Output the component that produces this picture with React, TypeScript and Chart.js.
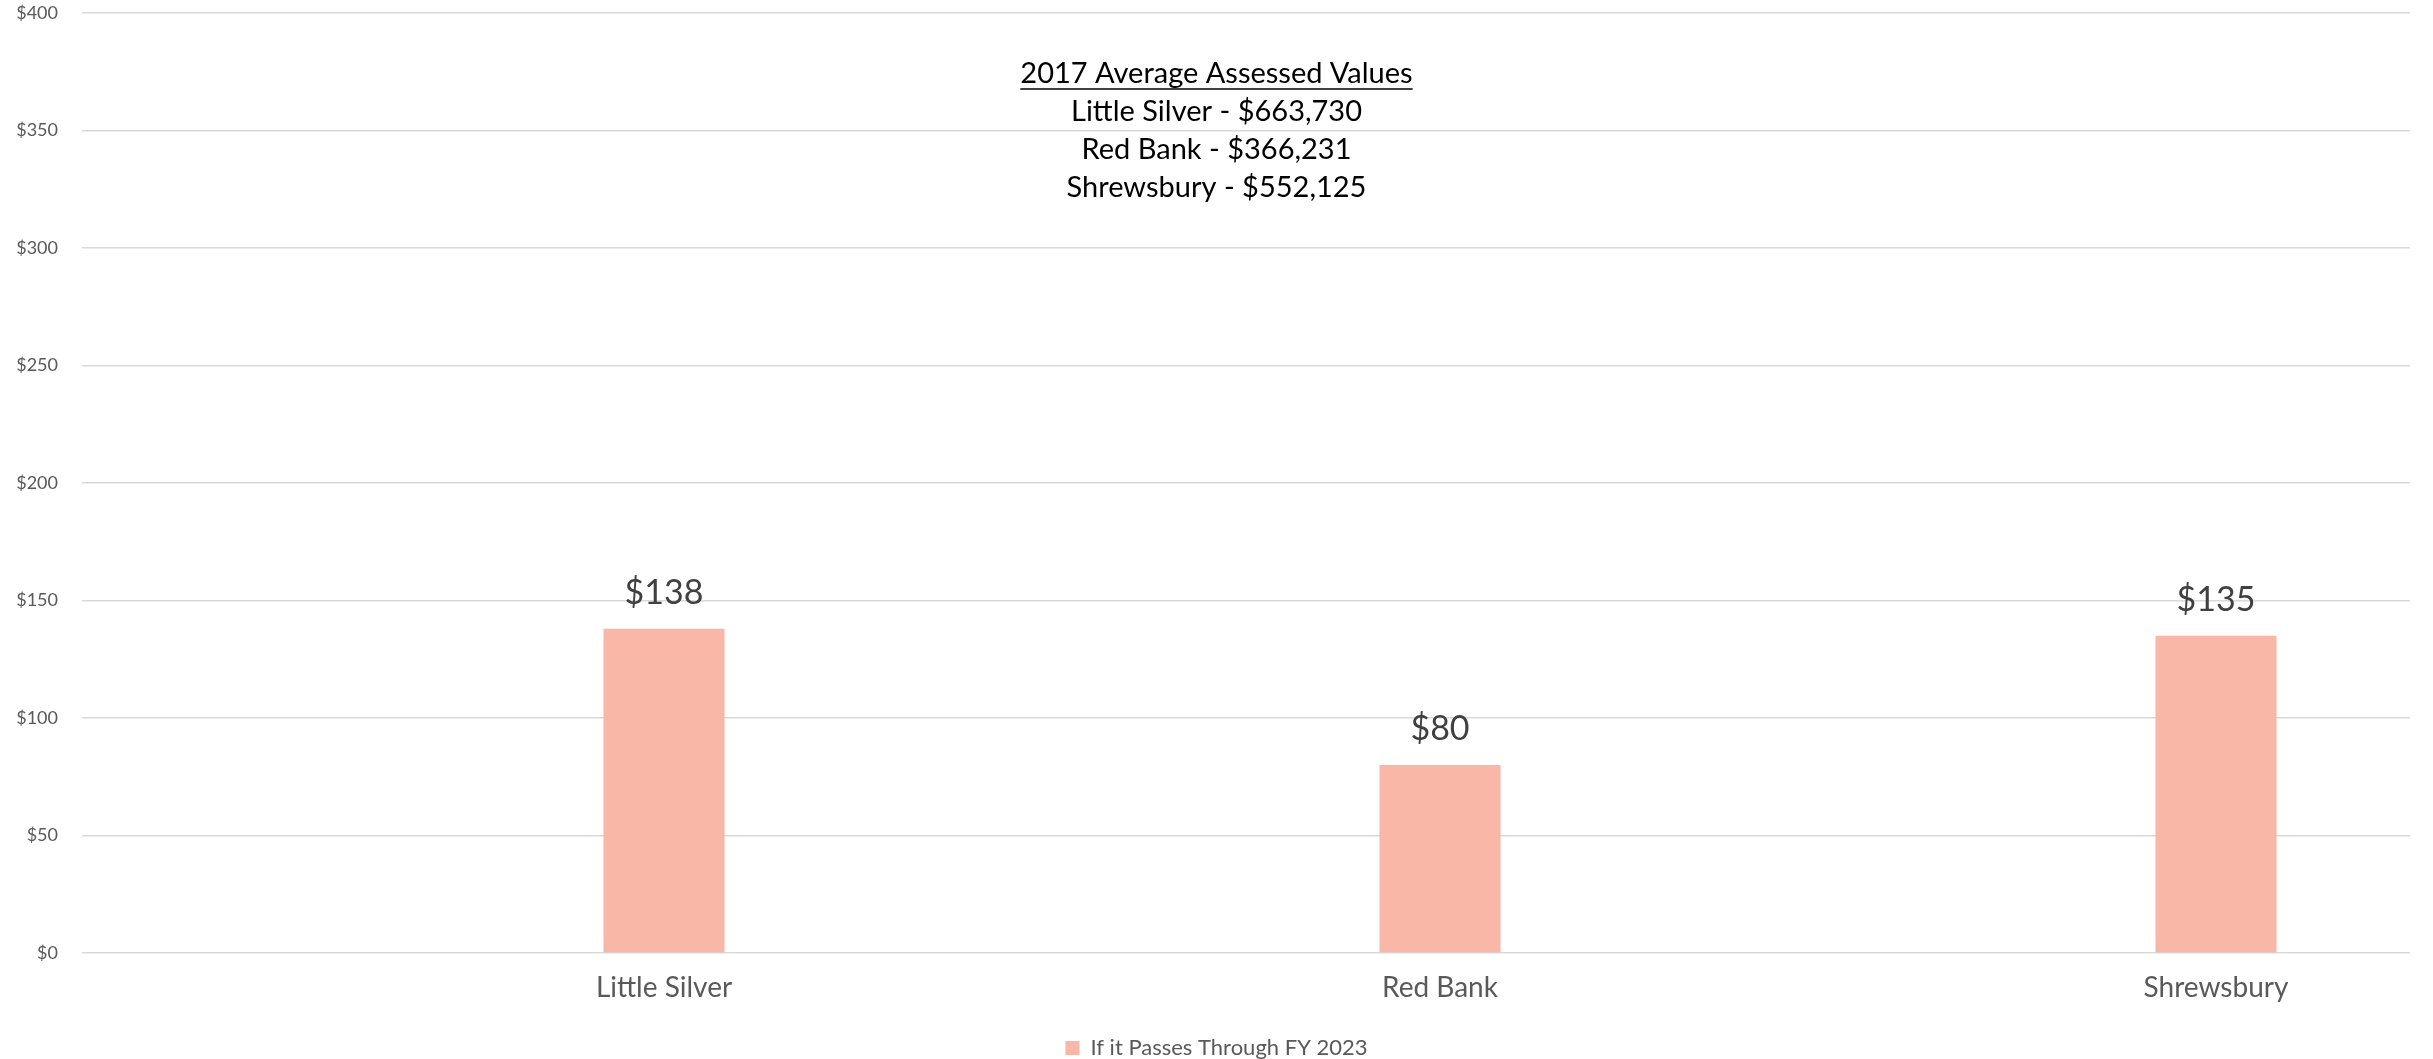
import React, { useEffect, useRef } from "react";
import { Chart, registerables } from "chart.js";

Chart.register(...registerables);

const categories = ["Little Silver", "Red Bank", "Shrewsbury"];
const values = [138, 80, 135];
const seriesLabel = "If it Passes Through FY 2023";
const yMin = 0;
const yMax = 400;
const yStep = 50;
const noteTitle = "2017 Average Assessed Values";
const noteLines = ["Little Silver - $663,730", "Red Bank - $366,231", "Shrewsbury - $552,125"];

const FONT = "Lato, 'Open Sans', sans-serif";

const dataLabelPlugin = {
  id: "dataLabels",
  afterDatasetsDraw(chart: any) {
    const ctx = chart.ctx;
    const meta = chart.getDatasetMeta(0);
    ctx.save();
    ctx.font = `34px ${FONT}`;
    ctx.fillStyle = "#404040";
    ctx.textAlign = "center";
    ctx.textBaseline = "alphabetic";
    meta.data.forEach((el: any, i: number) => {
      ctx.fillText("$" + values[i], el.x, el.y - 25);
    });
    ctx.restore();
  },
};

const notePlugin = {
  id: "note",
  afterDraw(chart: any) {
    const ctx = chart.ctx;
    const cx = chart.width / 2;
    ctx.save();
    ctx.font = `29px ${FONT}`;
    ctx.fillStyle = "#000000";
    ctx.textAlign = "center";
    ctx.textBaseline = "alphabetic";
    const first = 83;
    const gap = 38;
    ctx.fillText(noteTitle, cx, first);
    const w = ctx.measureText(noteTitle).width;
    ctx.strokeStyle = "#000000";
    ctx.lineWidth = 1.5;
    ctx.beginPath();
    ctx.moveTo(cx - w / 2, first + 6);
    ctx.lineTo(cx + w / 2, first + 6);
    ctx.stroke();
    noteLines.forEach((t, i) => {
      ctx.fillText(t, cx, first + gap * (i + 1));
    });
    ctx.restore();
  },
};

export default function App() {
  const ref = useRef<HTMLCanvasElement | null>(null);
  useEffect(() => {
    if (!ref.current) return;
    const chart = new Chart(ref.current, {
      type: "bar",
      data: {
        datasets: [
          {
            label: seriesLabel,
            data: values.map((v, i) => ({ x: i, y: v })),
            backgroundColor: "#F8B7A7",
            borderWidth: 0,
            categoryPercentage: 1,
            barPercentage: 0.156,
          },
        ],
      },
      options: {
        animation: false,
        responsive: false,
        devicePixelRatio: 1,
        layout: { padding: { top: 13, right: 0, left: 0, bottom: -10 } },
        plugins: {
          tooltip: { enabled: false },
          legend: {
            position: "bottom",
            labels: {
              boxWidth: 14,
              boxHeight: 14,
              padding: 4,
              color: "#595959",
              font: { family: FONT, size: 22 },
            },
          },
        },
        scales: {
          x: {
            type: "linear",
            offset: false,
            min: -0.75,
            max: 2.25,
            grid: { display: false, drawTicks: false, offset: false },
            border: { display: false },
            afterBuildTicks: (scale: any) => {
              scale.ticks = categories.map((_, i) => ({ value: i }));
            },
            afterFit: (scale: any) => {
              scale.height = 80;
              scale.paddingLeft = 0;
              scale.paddingRight = 0;
            },
            ticks: {
              padding: 18,
              color: "#595959",
              font: { family: FONT, size: 28 },
              autoSkip: false,
              maxRotation: 0,
              callback: (v: any) => categories[v] ?? "",
            },
          },
          y: {
            min: yMin,
            max: yMax,
            grid: { color: "#d9d9d9", lineWidth: 1.5, drawTicks: false },
            border: { display: false },
            afterFit: (scale: any) => {
              scale.width = 82;
              scale.paddingTop = 0;
              scale.paddingBottom = 0;
            },
            ticks: {
              stepSize: yStep,
              padding: 24,
              color: "#595959",
              font: { family: FONT, size: 18 },
              callback: (v: any) => "$" + v,
            },
          },
          yRightSpace: {
            position: "right",
            min: yMin,
            max: yMax,
            grid: { display: false, drawTicks: false },
            border: { display: false },
            ticks: { display: false },
            afterFit: (scale: any) => {
              scale.width = 23;
              scale.paddingTop = 0;
              scale.paddingBottom = 0;
            },
          },
        },
      },
      plugins: [dataLabelPlugin, notePlugin],
    });
    return () => chart.destroy();
  }, []);
  return (
    <div style={{ position: "fixed", left: 0, top: 0, width: 2433, height: 1059, background: "#fff" }}>
      <canvas ref={ref} width={2433} height={1059} />
    </div>
  );
}
